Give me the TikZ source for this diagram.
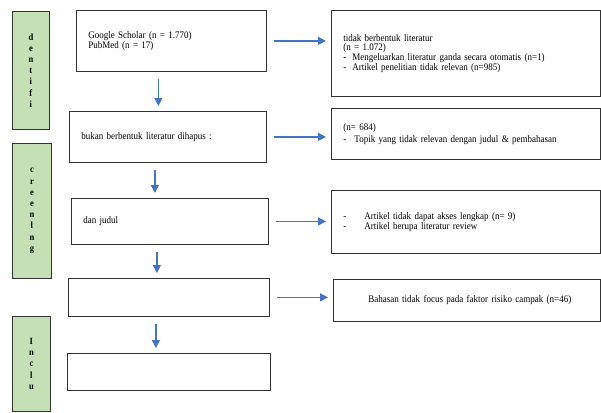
\documentclass[tikz,border=0pt]{standalone}
\usepackage{fontspec}
\setmainfont{Liberation Serif}[FakeStretch=0.9]
\usetikzlibrary{positioning,arrows.meta,calc}

\definecolor{stagegreen}{RGB}{197,224,180}
\definecolor{flowblue}{RGB}{68,114,196}

\tikzset{
  stagebox/.style={draw=black!80, fill=stagegreen, line width=0.8pt, anchor=north west,
    align=center, inner sep=0, font=\fontsize{9.5}{11.2}\selectfont\bfseries},
  recbox/.style={draw=black!80, line width=0.8pt, anchor=north west, align=left,
    inner xsep=12, inner ysep=0, font=\fontsize{10}{8.8}\selectfont},
  flow/.style={draw=flowblue, line width=1.4pt, -{Triangle[length=8pt,width=8pt]},
    shorten <=7pt, shorten >=5pt},
}

\begin{document}
\begin{tikzpicture}[x=1pt,y=-1pt]
  \useasboundingbox (0,0) rectangle (601,412);

  % stages
  \node [stagebox, minimum width=37, minimum height=118] (ident) at (12,11) {d\\e\\n\\t\\i\\f\\i};
  \node [stagebox, minimum width=39, minimum height=135] (scr) at (12,143) {c\\r\\e\\e\\n\\l\\n\\g};
  \node [stagebox, minimum width=38, minimum height=95] (incl) at (12,316) {I\\n\\c\\l\\u};

  % main flow
  \node [recbox, minimum width=190, minimum height=61, text width=166] (b1) at (76,10)
    {Google Scholar (n = 1.770)\\PubMed (n = 17)};
  \node [recbox, minimum width=197, minimum height=51, text width=173] (b2) at (69,111)
    {bukan berbentuk literatur dihapus :};
  \node [recbox, minimum width=197, minimum height=46, text width=173] (b3) at (71,198)
    {dan judul};
  \node [recbox, minimum width=201, minimum height=38, text width=177] (b4) at (68,278) {};
  \node [recbox, minimum width=203, minimum height=37, text width=179] (b5) at (67,353) {};

  % excluded
  \node [recbox, minimum width=269, minimum height=86, text width=245] (r1) at (331,10)
    {tidak berbentuk literatur\\(n = 1.072)\\
     -\hspace{6pt}Mengeluarkan literatur ganda secara otomatis (n=1)\\
     -\hspace{6pt}Artikel penelitian tidak relevan (n=985)\\[8pt]};
  \node [recbox, minimum width=269, minimum height=51, text width=245] (r2) at (331,108)
    {(n= 684)\\[2pt]
     -\hspace{8pt}Topik yang tidak relevan dengan judul \& pembahasan};
  \node [recbox, minimum width=269, minimum height=63, text width=245] (r3) at (331,190)
    {-\hspace{18pt}Artikel tidak dapat akses lengkap (n= 9)\\
     -\hspace{18pt}Artikel berupa literatur review};
  \node [recbox, minimum width=267, minimum height=42, text width=243] (r4) at (333,279)
    {\hspace*{23pt}Bahasan tidak focus pada faktor risiko campak (n=46)};

  % arrows
  \foreach \a/\b in {b1/b2, b2/b3, b3/b4, b4/b5}
    \draw [flow] ([xshift=-13pt]\a.south) -- ([xshift=-13pt]\a.south |- \b.north);
  \foreach \a/\b in {b1/r1, b2/r2, b3/r3, b4/r4}
    \draw [flow] (\a.east) -- (\a.east -| \b.west);
\end{tikzpicture}
\end{document}
